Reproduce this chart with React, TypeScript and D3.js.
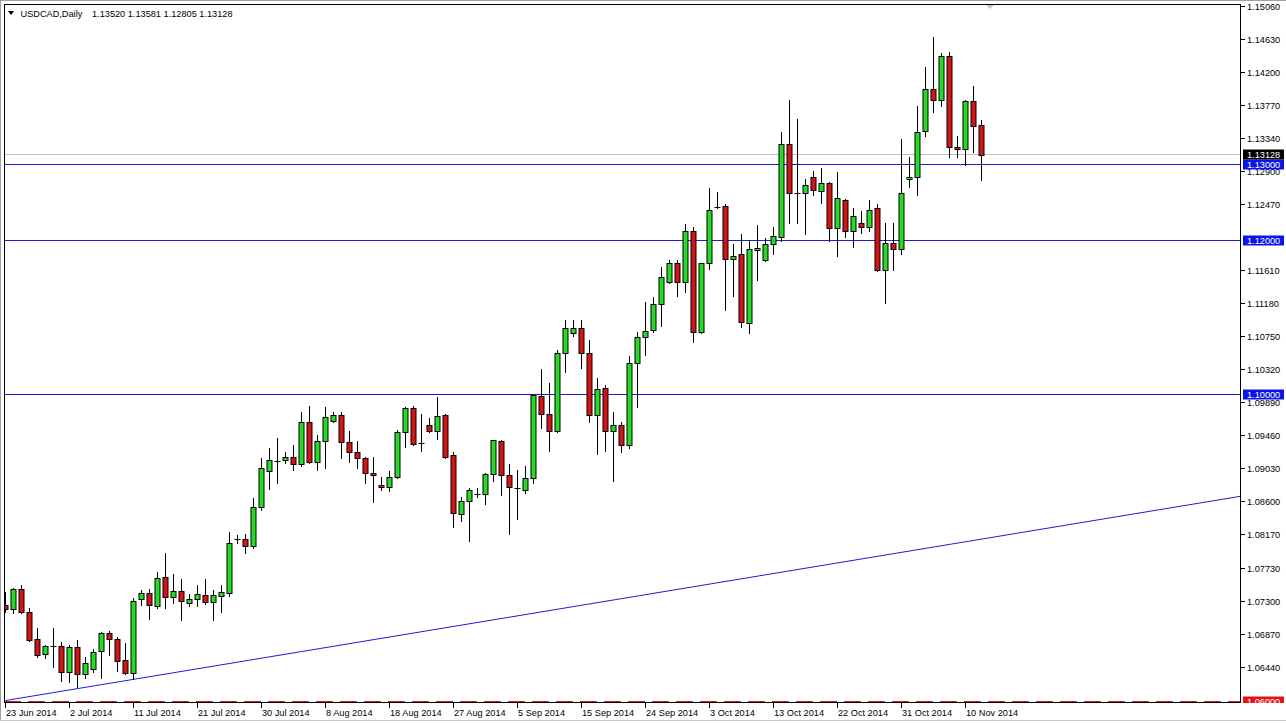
import React from 'react';
import * as d3 from 'd3';

// daily USDCAD candles, 23 Jun 2014 .. 12 Nov 2014
const opens = [
  1.0726, 1.0721, 1.0747, 1.0717, 1.0682, 1.0662, 1.0673, 1.0673, 1.0639, 1.0671,
  1.0636, 1.0643, 1.0666, 1.0690, 1.0682, 1.0654, 1.0637, 1.0734, 1.0742, 1.0725,
  1.0763, 1.0737, 1.0744, 1.0729, 1.0734, 1.0739, 1.0730, 1.0738, 1.0742, 1.0812,
  1.0812, 1.0803, 1.0854, 1.0901, 1.0914, 1.0915, 1.0919, 1.0910, 1.0965, 1.0913,
  1.0940, 1.0966, 1.0974, 1.0939, 1.0926, 1.0918, 1.0898, 1.0883, 1.0880, 1.0893,
  1.0952, 1.0983, 1.0937, 1.0961, 1.0953, 1.0974, 1.0921, 1.0845, 1.0861, 1.0871,
  1.0871, 1.0897, 1.0940, 1.0896, 1.0879, 1.0876, 1.0892, 1.0999, 1.0975, 1.0953,
  1.1054, 1.1080, 1.1087, 1.1055, 1.0974, 1.1009, 1.0953, 1.0961, 1.0935, 1.1042,
  1.1076, 1.1085, 1.1119, 1.1147, 1.1172, 1.1147, 1.1213, 1.1082, 1.1172, 1.1245,
  1.1246, 1.1177, 1.1183, 1.1094, 1.1189, 1.1176, 1.1196, 1.1206, 1.1327, 1.1263,
  1.1263, 1.1284, 1.1266, 1.1276, 1.1218, 1.1254, 1.1213, 1.1224, 1.1219, 1.1243,
  1.1163, 1.1198, 1.1190, 1.1282, 1.1284, 1.1344, 1.1399, 1.1385, 1.1442, 1.1323,
  1.1320, 1.1383, 1.1352,
];
const highs = [
  1.0743, 1.0748, 1.0752, 1.0722, 1.0696, 1.0674, 1.0696, 1.0678, 1.0674, 1.0680,
  1.0658, 1.0669, 1.0691, 1.0692, 1.0684, 1.0677, 1.0735, 1.0746, 1.0747, 1.0769,
  1.0794, 1.0767, 1.0760, 1.0740, 1.0752, 1.0760, 1.0746, 1.0752, 1.0821, 1.0817,
  1.0819, 1.0866, 1.0918, 1.0930, 1.0944, 1.0926, 1.0934, 1.0977, 1.0986, 1.0948,
  1.0984, 1.0978, 1.0978, 1.0953, 1.0940, 1.0919, 1.0919, 1.0893, 1.0900, 1.0954,
  1.0984, 1.0986, 1.0975, 1.0970, 1.0997, 1.0975, 1.0926, 1.0867, 1.0879, 1.0879,
  1.0898, 1.0941, 1.0941, 1.0910, 1.0902, 1.0907, 1.1001, 1.1033, 1.1016, 1.1059,
  1.1098, 1.1098, 1.1098, 1.1072, 1.1022, 1.1013, 1.0978, 1.0965, 1.1050, 1.1082,
  1.1121, 1.1128, 1.1167, 1.1176, 1.1176, 1.1223, 1.1219, 1.1172, 1.1270, 1.1265,
  1.1249, 1.1196, 1.1210, 1.1200, 1.1222, 1.1205, 1.1219, 1.1343, 1.1385, 1.1360,
  1.1282, 1.1292, 1.1296, 1.1277, 1.1290, 1.1255, 1.1243, 1.1240, 1.1254, 1.1249,
  1.1224, 1.1224, 1.1333, 1.1310, 1.1377, 1.1427, 1.1467, 1.1445, 1.1447, 1.1337,
  1.1385, 1.1402, 1.13581,
];
const lows = [
  1.0717, 1.0716, 1.0716, 1.0679, 1.0658, 1.0657, 1.0645, 1.0627, 1.0626, 1.0619,
  1.0631, 1.0639, 1.0631, 1.0661, 1.0640, 1.0636, 1.0630, 1.0726, 1.0708, 1.0722,
  1.0722, 1.0729, 1.0707, 1.0725, 1.0725, 1.0727, 1.0707, 1.0717, 1.0738, 1.0807,
  1.0794, 1.0800, 1.0850, 1.0877, 1.0885, 1.0911, 1.0902, 1.0907, 1.0911, 1.0902,
  1.0905, 1.0964, 1.0917, 1.0913, 1.0905, 1.0885, 1.0860, 1.0876, 1.0874, 1.0892,
  1.0932, 1.0935, 1.0927, 1.0952, 1.0943, 1.0918, 1.0828, 1.0836, 1.0810, 1.0867,
  1.0857, 1.0888, 1.0870, 1.0819, 1.0838, 1.0872, 1.0885, 1.0957, 1.0927, 1.0952,
  1.1030, 1.1077, 1.1035, 1.0965, 1.0923, 1.0927, 1.0887, 1.0926, 1.0931, 1.0984,
  1.1052, 1.1082, 1.1090, 1.1146, 1.1129, 1.1134, 1.1069, 1.1081, 1.1164, 1.1243,
  1.1110, 1.1129, 1.1089, 1.1080, 1.1150, 1.1174, 1.1183, 1.1200, 1.1224, 1.1224,
  1.1209, 1.1260, 1.1250, 1.1201, 1.1181, 1.1206, 1.1193, 1.1211, 1.1214, 1.1162,
  1.1120, 1.1163, 1.1184, 1.1271, 1.1261, 1.1338, 1.1369, 1.1377, 1.1310, 1.1310,
  1.1300, 1.1316, 1.12805,
];
const closes = [
  1.0721, 1.0747, 1.0717, 1.0680, 1.0661, 1.0673, 1.0673, 1.0639, 1.0671, 1.0636,
  1.0650, 1.0665, 1.0690, 1.0682, 1.0653, 1.0637, 1.0731, 1.0742, 1.0726, 1.0761,
  1.0737, 1.0744, 1.0731, 1.0734, 1.0740, 1.0730, 1.0739, 1.0743, 1.0807, 1.0812,
  1.0803, 1.0854, 1.0904, 1.0915, 1.0914, 1.0919, 1.0910, 1.0965, 1.0913, 1.0940,
  1.0971, 1.0974, 1.0939, 1.0926, 1.0918, 1.0898, 1.0896, 1.0880, 1.0893, 1.0952,
  1.0983, 1.0936, 1.0937, 1.0953, 1.0973, 1.0919, 1.0846, 1.0861, 1.0876, 1.0871,
  1.0897, 1.0941, 1.0896, 1.0880, 1.0879, 1.0892, 1.1000, 1.0975, 1.0953, 1.1055,
  1.1087, 1.1087, 1.1055, 1.0974, 1.1008, 1.0953, 1.0960, 1.0935, 1.1042, 1.1076,
  1.1083, 1.1119, 1.1153, 1.1172, 1.1147, 1.1213, 1.1082, 1.1172, 1.1241, 1.1245,
  1.1177, 1.1181, 1.1095, 1.1190, 1.1192, 1.1196, 1.1207, 1.1327, 1.1263, 1.1263,
  1.1273, 1.1267, 1.1276, 1.1218, 1.1256, 1.1213, 1.1233, 1.1219, 1.1241, 1.1163,
  1.1198, 1.1190, 1.1263, 1.1284, 1.1343, 1.1399, 1.1385, 1.1442, 1.1323, 1.1320,
  1.1383, 1.1351, 1.13128,
];

// one label every 8 bars
const dateLabels = [
  '23 Jun 2014', '2 Jul 2014', '11 Jul 2014', '21 Jul 2014', '30 Jul 2014', '8 Aug 2014',
  '18 Aug 2014', '27 Aug 2014', '5 Sep 2014', '15 Sep 2014', '24 Sep 2014', '3 Oct 2014',
  '13 Oct 2014', '22 Oct 2014', '31 Oct 2014', '10 Nov 2014',
];
const priceTicks = [
  '1.15060', '1.14630', '1.14200', '1.13770', '1.13340', '1.12900', '1.12470', '1.11610',
  '1.11180', '1.10750', '1.10320', '1.09890', '1.09460', '1.09030', '1.08600', '1.08170',
  '1.07730', '1.07300', '1.06870', '1.06440',
];
const levelPrices = [1.13, 1.12, 1.1];
const supportPrice = 1.06;
const bidPrice = 1.13128;
const trendAnchors = [{ bar: 0, price: 1.06014 }, { bar: 16, price: 1.0629 }];

const W = 1286;
const H = 723;
const plot = { left: 4, top: 4, right: 1241, bottom: 703 };
const BAR_STEP = 8;
const FONT = "'Liberation Sans', Arial, sans-serif";
const FS = 9.2;
const LINE_BLUE = '#1c1cd8';

const App = () => {
  const firstBar = -0.1875;
  const x = d3.scaleLinear()
    .domain([firstBar, firstBar + (plot.right - plot.left) / BAR_STEP])
    .range([plot.left, plot.right]);
  const y = d3.scaleLinear()
    .domain([1.059817, 1.150952])
    .range([plot.bottom, plot.top]);
  const py = (p: number) => Math.round(y(p)) - 0.5;

  const slope = (trendAnchors[1].price - trendAnchors[0].price) / (trendAnchors[1].bar - trendAnchors[0].bar);
  const endBar = x.invert(plot.right);
  const trendEnd = trendAnchors[0].price + slope * (endBar - trendAnchors[0].bar);

  const boxW = 41;
  const boxH = 10;

  return (
    <svg width={W} height={H} style={{ position: 'absolute', left: 0, top: 0, background: '#fff' }}
      fontFamily={FONT} fontSize={FS}>
      <defs>
        <clipPath id="plotClip">
          <rect x={plot.left} y={plot.top} width={plot.right - plot.left} height={plot.bottom - plot.top} />
        </clipPath>
        <clipPath id="axisClip">
          <rect x={plot.right} y={0} width={W - plot.right} height={plot.bottom} />
        </clipPath>
      </defs>

      {/* window frame */}
      <line x1={0} x2={W} y1={0.5} y2={0.5} stroke="#a0a0a0" />
      <line x1={0.5} x2={0.5} y1={0} y2={721} stroke="#a0a0a0" />
      <line x1={0} x2={W} y1={720.5} y2={720.5} stroke="#c8c8c8" />

      <g clipPath="url(#plotClip)">
        {/* bid line */}
        <line x1={plot.left} x2={plot.right} y1={py(bidPrice)} y2={py(bidPrice)} stroke="#c0c0c0" />
        {/* horizontal levels */}
        {levelPrices.map((p) => (
          <line key={p} x1={plot.left} x2={plot.right} y1={py(p)} y2={py(p)} stroke={LINE_BLUE} />
        ))}
        <line x1={plot.left} x2={plot.right} y1={py(supportPrice)} y2={py(supportPrice)}
          stroke="#d81c1c" strokeDasharray="17,7" />
        {/* trend line */}
        <line x1={x(trendAnchors[0].bar)} y1={y(trendAnchors[0].price)} x2={plot.right} y2={y(trendEnd)} stroke={LINE_BLUE} />

        {/* candles */}
        {opens.map((o, i) => {
          const c = closes[i];
          const cx = Math.round(x(i) - 0.5) + 0.5;
          const yo = Math.round(y(o));
          const yc = Math.round(y(c));
          const top = Math.min(yo, yc);
          const bot = Math.max(yo, yc);
          return (
            <g key={i}>
              <line x1={cx} x2={cx} y1={Math.round(y(highs[i]))} y2={Math.round(y(lows[i])) + 1} stroke="#000" />
              {bot - top < 1 ? (
                <line x1={cx - 3} x2={cx + 3} y1={top + 0.5} y2={top + 0.5} stroke="#000" />
              ) : (
                <rect x={cx - 2.5} y={top + 0.5} width={5} height={bot - top}
                  fill={c > o ? '#22dd22' : '#d41414'} stroke="#000" />
              )}
            </g>
          );
        })}
      </g>

      {/* chart shift marker */}
      <polygon points="985,4 995,4 990,9" fill="#c8c8c8" />

      {/* plot border */}
      <rect x={plot.left + 0.5} y={plot.top + 0.5} width={plot.right - plot.left - 1} height={plot.bottom - plot.top - 1}
        fill="none" stroke="#000" />

      {/* price axis */}
      <g clipPath="url(#axisClip)">
        {priceTicks.map((t) => {
          const ty = py(+t);
          return (
            <g key={t}>
              <line x1={plot.right} x2={plot.right + 4} y1={ty} y2={ty} stroke="#000" />
              <text x={plot.right + 6} y={ty + 3.4} fill="#000">{t}</text>
            </g>
          );
        })}
        {[...levelPrices.map((p) => ({ p, fill: '#0a14e8' })), { p: supportPrice, fill: '#e81414' }, { p: bidPrice, fill: '#000' }].map(({ p, fill }) => {
          const cy = py(p);
          return (
            <g key={p}>
              <rect x={plot.right + 2} y={cy - boxH / 2} width={boxW} height={boxH} fill={fill} />
              <text x={plot.right + 6} y={cy + 3.4} fill="#fff">{p.toFixed(5)}</text>
            </g>
          );
        })}
      </g>

      {/* date axis */}
      {dateLabels.map((d, k) => {
        const tx = Math.round(x(k * BAR_STEP) - 0.5) + 0.5;
        return (
          <g key={d}>
            <line x1={tx} x2={tx} y1={plot.bottom} y2={plot.bottom + 5} stroke="#000" />
            <text x={tx + 0.5} y={716} fill="#000">{d}</text>
          </g>
        );
      })}

      {/* title */}
      <polygon points="8,11 14,11 11,15" fill="#000" />
      <text x={20.5} y={16.5} fill="#000">USDCAD,Daily</text>
      <text x={92} y={16.5} fill="#000">
        {[opens[opens.length - 1], highs[highs.length - 1], lows[lows.length - 1], closes[closes.length - 1]]
          .map((v) => v.toFixed(5)).join(' ')}
      </text>
    </svg>
  );
};

export default App;
